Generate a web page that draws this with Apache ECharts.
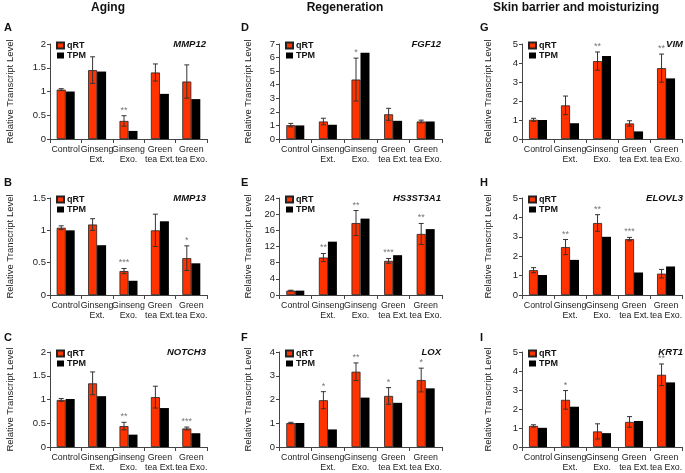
<!DOCTYPE html>
<html><head><meta charset="utf-8">
<script src="https://cdn.jsdelivr.net/npm/echarts@6/dist/echarts.min.js"></script>
<style>html,body{margin:0;padding:0;background:#fff}#c{width:685px;height:473px}</style>
</head><body><div id="c"></div>
<script>
const categories = ['Control','Ginseng\nExt.','Ginseng\nExo.','Green\ntea Ext.','Green\ntea Exo.'];
const sectionTitles = ['Aging','Regeneration','Skin barrier and moisturizing'];
const panelLetters = ['A','B','C','D','E','F','G','H','I'];
const geneNames = ['MMP12','MMP13','NOTCH3','FGF12','HS3ST3A1','LOX','VIM','ELOVL3','KRT1'];
const yMax = [2, 1.5, 2, 7, 24, 4, 5, 5, 5];
const yInterval = [0.5, 0.5, 0.5, 1, 4, 1, 1, 1, 1];

// A MMP12
const mmp12Qrt = [1.04, 1.45, 0.38, 1.40, 1.21];
const mmp12Err = [0.02, 0.28, 0.11, 0.18, 0.35];
const mmp12Tpm = [1.00, 1.42, 0.17, 0.95, 0.84];
const mmp12Sig = ['', '', '**', '', ''];
// B MMP13
const mmp13Qrt = [1.04, 1.09, 0.37, 1.00, 0.57];
const mmp13Err = [0.03, 0.09, 0.04, 0.25, 0.19];
const mmp13Tpm = [1.00, 0.77, 0.22, 1.14, 0.49];
const mmp13Sig = ['', '', '***', '', '*'];
// C NOTCH3
const notch3Qrt = [0.99, 1.34, 0.44, 1.05, 0.39];
const notch3Err = [0.03, 0.24, 0.08, 0.23, 0.03];
const notch3Tpm = [1.01, 1.07, 0.26, 0.82, 0.29];
const notch3Sig = ['', '', '**', '', '***'];
// D FGF12
const fgf12Qrt = [1.02, 1.29, 4.38, 1.82, 1.29];
const fgf12Err = [0.13, 0.24, 1.58, 0.44, 0.10];
const fgf12Tpm = [1.00, 1.05, 6.35, 1.34, 1.29];
const fgf12Sig = ['', '', '*', '', ''];
// E HS3ST3A1
const hs3Qrt = [1.08, 9.27, 17.8, 8.44, 15.1];
const hs3Err = [0.10, 1.00, 3.10, 0.60, 2.60];
const hs3Tpm = [1.08, 13.2, 18.9, 9.85, 16.3];
const hs3Sig = ['', '**', '**', '***', '**'];
// F LOX
const loxQrt = [1.01, 1.97, 3.17, 2.15, 2.82];
const loxErr = [0.03, 0.36, 0.37, 0.35, 0.50];
const loxTpm = [1.01, 0.74, 2.08, 1.86, 2.47];
const loxSig = ['', '*', '**', '*', '*'];
// G VIM
const vimQrt = [1.01, 1.77, 4.10, 0.82, 3.73];
const vimErr = [0.08, 0.49, 0.48, 0.14, 0.74];
const vimTpm = [1.00, 0.83, 4.37, 0.40, 3.19];
const vimSig = ['', '', '**', '', '**'];
// H ELOVL3
const elovl3Qrt = [1.28, 2.47, 3.71, 2.88, 1.10];
const elovl3Err = [0.13, 0.39, 0.43, 0.09, 0.22];
const elovl3Tpm = [1.03, 1.81, 3.00, 1.16, 1.47];
const elovl3Sig = ['', '**', '**', '***', ''];
// I KRT1
const krt1Qrt = [1.11, 2.48, 0.82, 1.32, 3.80];
const krt1Err = [0.06, 0.49, 0.40, 0.28, 0.57];
const krt1Tpm = [1.01, 2.12, 0.73, 1.37, 3.40];
const krt1Sig = ['', '*', '', '', '**'];

const panels = [
  [mmp12Qrt, mmp12Err, mmp12Tpm, mmp12Sig],
  [mmp13Qrt, mmp13Err, mmp13Tpm, mmp13Sig],
  [notch3Qrt, notch3Err, notch3Tpm, notch3Sig],
  [fgf12Qrt, fgf12Err, fgf12Tpm, fgf12Sig],
  [hs3Qrt, hs3Err, hs3Tpm, hs3Sig],
  [loxQrt, loxErr, loxTpm, loxSig],
  [vimQrt, vimErr, vimTpm, vimSig],
  [elovl3Qrt, elovl3Err, elovl3Tpm, elovl3Sig],
  [krt1Qrt, krt1Err, krt1Tpm, krt1Sig]
];

// layout (styles)
const cols = [
  {left: 50, width: 157, nameGap: 35, titleX: 108, letterX: 4},
  {left: 279, width: 163, nameGap: 26, titleX: 345, letterX: 241},
  {left: 522, width: 162, nameGap: 29, titleX: 576, letterX: 480}
];
const rows = [
  {top: 44, height: 95, letterY: 22},
  {top: 198, height: 97, letterY: 177},
  {top: 352, height: 96, letterY: 332}
];
const FONT = '"Liberation Sans", Arial, sans-serif';
const RED = '#ff3300';
const BAR_W = 9;

const grid = [], xAxis = [], yAxis = [], series = [], legend = [], graphic = [];

sectionTitles.forEach((t, c) => {
  graphic.push({type: 'text', x: cols[c].titleX, y: 2,
    style: {text: t, font: 'bold 12px ' + FONT, fill: '#111', textAlign: 'center', textVerticalAlign: 'top'}});
});

panels.forEach((p, k) => {
  const c = Math.floor(k / 3), r = k % 3;
  const col = cols[c], row = rows[r];
  const [qrt, err, tpm, sig] = p;
  grid.push({left: col.left, top: row.top, width: col.width, height: row.height});
  xAxis.push({
    type: 'category', gridIndex: k, data: categories,
    axisLine: {show: true, lineStyle: {color: '#444', width: 1}},
    axisTick: {show: true, alignWithLabel: false, length: 4, lineStyle: {color: '#444'}},
    axisLabel: {interval: 0, fontSize: 8.8, lineHeight: 10, margin: 6, color: '#222', fontFamily: FONT, hideOverlap: false},
    splitLine: {show: false}
  });
  yAxis.push({
    type: 'value', gridIndex: k, min: 0, max: yMax[k], interval: yInterval[k],
    name: 'Relative Transcript Level', nameLocation: 'middle', nameGap: col.nameGap,
    nameTextStyle: {fontSize: 9.5, color: '#222', fontFamily: FONT},
    axisLine: {show: true, lineStyle: {color: '#444', width: 1}},
    axisTick: {show: true, length: 3, lineStyle: {color: '#444'}},
    axisLabel: {fontSize: 9.5, color: '#222', margin: 4, fontFamily: FONT},
    splitLine: {show: false}
  });
  series.push({
    name: 'qRT', type: 'bar', xAxisIndex: k, yAxisIndex: k, data: qrt,
    barWidth: BAR_W, barGap: '0%',
    itemStyle: {color: RED, borderColor: '#222', borderWidth: 0.8},
    emphasis: {disabled: true}, animation: false
  });
  series.push({
    name: 'TPM', type: 'bar', xAxisIndex: k, yAxisIndex: k, data: tpm,
    barWidth: BAR_W, barGap: '0%',
    itemStyle: {color: '#000', borderColor: '#000', borderWidth: 0},
    emphasis: {disabled: true}, animation: false
  });
  series.push({
    type: 'custom', xAxisIndex: k, yAxisIndex: k, z: 10, animation: false,
    data: qrt.map((v, i) => [i, v, err[i]]),
    renderItem: function (params, api) {
      const i = api.value(0), v = api.value(1), e = api.value(2);
      const hi = api.coord([i, v + e]);
      const lo = api.coord([i, v - e]);
      const x = hi[0] - BAR_W / 2;
      const capW = 2.5;
      const children = [
        {type: 'line', shape: {x1: x, y1: hi[1], x2: x, y2: lo[1]}, style: {stroke: '#333', lineWidth: 1}},
        {type: 'line', shape: {x1: x - capW, y1: hi[1], x2: x + capW, y2: hi[1]}, style: {stroke: '#333', lineWidth: 1}},
        {type: 'line', shape: {x1: x - capW, y1: lo[1], x2: x + capW, y2: lo[1]}, style: {stroke: '#333', lineWidth: 1}}
      ];
      const s = sig[params.dataIndex];
      if (s) {
        children.push({type: 'text', x: x, y: hi[1] - 1,
          style: {text: s, fill: '#777', font: '9px ' + FONT, textAlign: 'center', textVerticalAlign: 'bottom'}});
      }
      return {type: 'group', children: children};
    }
  });
  legend.push({
    left: col.left + 6, top: row.top - 3, orient: 'vertical',
    itemWidth: 7, itemHeight: 6, itemGap: 1, selectedMode: false,
    data: [{name: 'qRT', icon: 'rect'}, {name: 'TPM', icon: 'rect'}],
    textStyle: {fontSize: 9, fontWeight: 'bold', color: '#111', lineHeight: 8, padding: [0, 0, 0, -2], fontFamily: FONT},
    padding: 0
  });
  graphic.push({type: 'text', x: col.left + col.width - 1, y: row.top,
    style: {text: geneNames[k], font: 'italic bold 9.5px ' + FONT, fill: '#111', textAlign: 'right', textVerticalAlign: 'middle'}});
  graphic.push({type: 'text', x: col.letterX, y: row.letterY,
    style: {text: panelLetters[k], font: 'bold 11px ' + FONT, fill: '#111', textVerticalAlign: 'top'}});
});

const chart = echarts.init(document.getElementById('c'), null, {renderer: 'canvas'});
chart.setOption({
  animation: false, backgroundColor: '#fff',
  grid, xAxis, yAxis, series, legend, graphic,
  tooltip: {show: false}
});
</script></body></html>
